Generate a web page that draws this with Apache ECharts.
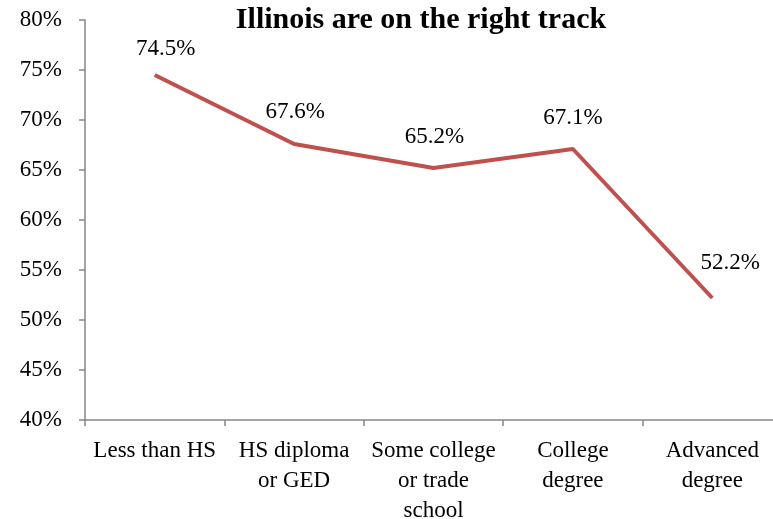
<!DOCTYPE html>
<html><head><meta charset="utf-8">
<script src="https://cdn.jsdelivr.net/npm/echarts@6/dist/echarts.min.js"></script>
<style>html,body{margin:0;padding:0;background:#fff}#c{width:773px;height:519px}</style>
</head><body><div id="c"></div>
<script>
const categories = ["Less than HS", "HS diploma\nor GED", "Some college\nor trade\nschool", "College\ndegree", "Advanced\ndegree"];
const values = [74.5, 67.6, 65.2, 67.1, 52.2];
const titleText = "Illinois are on the right track";
const labelOffsets = [[11, 6], [1, 0], [1, 1], [0, 1], [18, -3]];
const font = "'Liberation Serif', 'DejaVu Serif', serif";
const chart = echarts.init(document.getElementById('c'));
chart.setOption({
  animation: false,
  title: { text: titleText, left: 416, textAlign: 'center', top: 0,
    textStyle: { fontFamily: font, fontSize: 30, fontWeight: 'bold', color: '#000' } },
  grid: { left: 85, right: -9, top: 20, bottom: 99, containLabel: false, outerBoundsMode: 'none' },
  xAxis: { type: 'category', data: categories, boundaryGap: true,
    axisLine: { lineStyle: { color: '#868686', width: 1.5 } },
    axisTick: { show: true, length: 6, inside: false, lineStyle: { color: '#868686', width: 1.5 } },
    axisLabel: { interval: 0, margin: 16, fontFamily: font, fontSize: 23, color: '#000', lineHeight: 30 } },
  yAxis: { type: 'value', min: 40, max: 80, interval: 5,
    splitLine: { show: false },
    axisLine: { show: true, lineStyle: { color: '#868686', width: 1.5 } },
    axisTick: { show: true, length: 6, lineStyle: { color: '#868686', width: 1.5 } },
    axisLabel: { margin: 23, fontFamily: font, fontSize: 23, color: '#000', formatter: v => v + '%' } },
  series: [{ type: 'line',
    data: values.map((v, i) => ({ value: v, label: { offset: labelOffsets[i] } })),
    symbol: 'circle', symbolSize: 0, showSymbol: true,
    itemStyle: { color: '#c0504d' },
    lineStyle: { color: '#c0504d', width: 4 },
    label: { show: true, position: 'top', distance: 21, fontFamily: font, fontSize: 23, color: '#000',
      formatter: p => p.value.toFixed(1) + '%' } }]
});
</script></body></html>
